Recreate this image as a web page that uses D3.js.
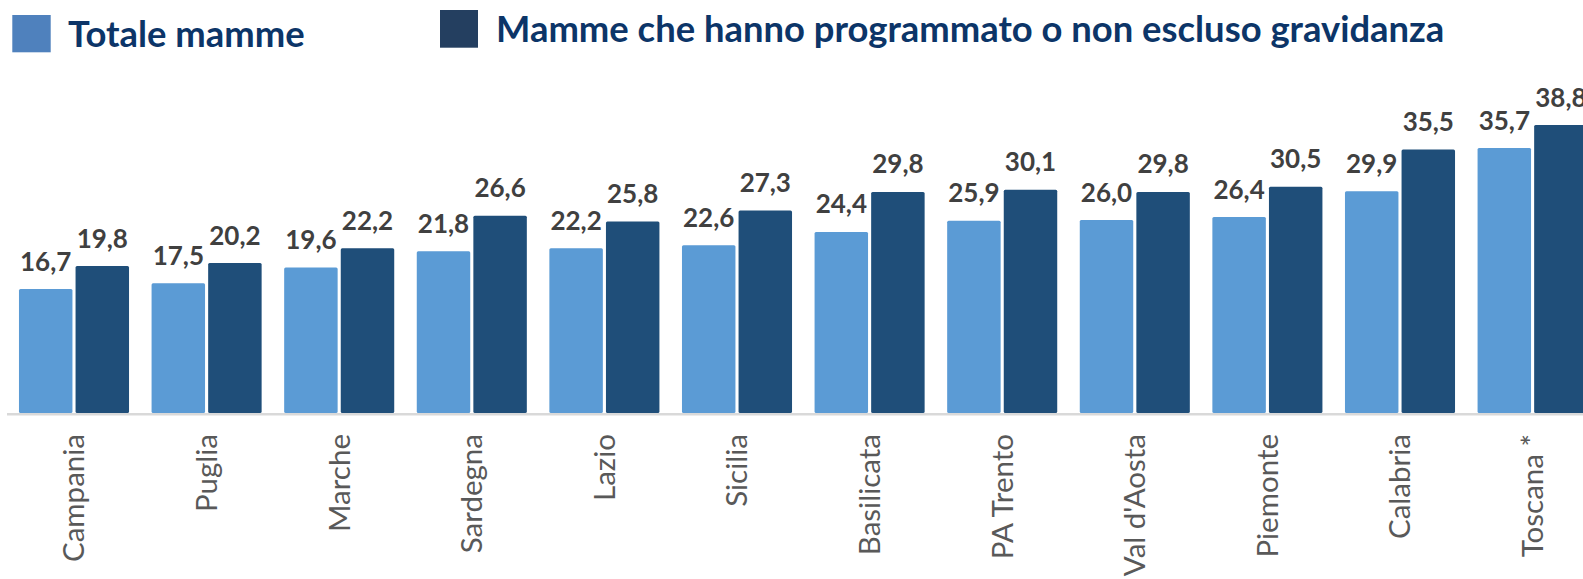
<!DOCTYPE html>
<html>
<head>
<meta charset="utf-8">
<script src="https://cdn.jsdelivr.net/npm/d3@7"></script>
<style>
	body { margin: 0; background: #fff; }
	svg { display: block; }
	.legend-text { font-family: Lato, "Open Sans", sans-serif; font-weight: bold; font-size: 36.4px; fill: #0c3568; }
	.value-label { font-family: Lato, "Open Sans", sans-serif; font-weight: bold; font-size: 26px; fill: #404040; }
	.cat-label { font-family: Lato, "Open Sans", sans-serif; font-size: 29.5px; fill: #595959; }
</style>
</head>
<body>
<svg id="chart" width="1583" height="579"></svg>
<script>

const REGIONS = [
	"Campania",
	"Puglia",
	"Marche",
	"Sardegna",
	"Lazio",
	"Sicilia",
	"Basilicata",
	"PA Trento",
	"Val d'Aosta",
	"Piemonte",
	"Calabria",
	"Toscana *"
];

const TOTALE_MAMME = [16.7, 17.5, 19.6, 21.8, 22.2, 22.6, 24.4, 25.9, 26.0, 26.4, 29.9, 35.7];
const MAMME_GRAVIDANZA = [19.8, 20.2, 22.2, 26.6, 25.8, 27.3, 29.8, 30.1, 29.8, 30.5, 35.5, 38.8];

const SERIES_NAMES = [
	"Totale mamme",
	"Mamme che hanno programmato o non escluso gravidanza"
];

const BAR_COLORS = ['#5b9bd5', '#1f4e79'];
const LEGEND_COLORS = ['#4f81bd', '#243f60'];

const BASELINE = 413;

class GroupedBars {

	constructor(element){
		this.svg = d3.select(element);
		this.series = [TOTALE_MAMME, MAMME_GRAVIDANZA];

		this.x = d3.scaleBand()
			.domain(REGIONS)
			.range([7.7, 1598.9])
			.paddingInner(0.17)
			.paddingOuter(0.085);

		this.xSub = d3.scaleBand()
			.domain([0, 1])
			.range([0, this.x.bandwidth()])
			.paddingInner(0.055);

		// about 7.42px per point, zero on the grey base line
		this.y = d3.scaleLinear()
			.domain([0, 40])
			.range([BASELINE, BASELINE - 7.42 * 40]);
	}

	drawLegend(){
		let items = [
			{sq: [12.3, 15, 38.4, 37.3], tx: 68, ty: 46.7},
			{sq: [440, 10, 38, 37.7], tx: 496, ty: 41.7}
		];
		let g = this.svg.append("g").attr("class", "legend");
		items.forEach((it, i) => {
			g.append("rect")
				.attr("x", it.sq[0])
				.attr("y", it.sq[1])
				.attr("width", it.sq[2])
				.attr("height", it.sq[3])
				.attr("fill", LEGEND_COLORS[i]);
			g.append("text")
				.attr("class", "legend-text")
				.attr("x", it.tx)
				.attr("y", it.ty)
				.text(SERIES_NAMES[i]);
		});
	}

	drawAxis(){
		this.svg.append("line")
			.attr("x1", 7)
			.attr("x2", 1583)
			.attr("y1", BASELINE + 1.2)
			.attr("y2", BASELINE + 1.2)
			.attr("stroke", "#d9d9d9")
			.attr("stroke-width", 2.6);

		let axis = d3.axisBottom(this.x).tickSize(0).tickPadding(0);
		let axisG = this.svg.append("g")
			.attr("transform", "translate(0," + 434 + ")")
			.call(axis);
		axisG.select(".domain").remove();
		axisG.selectAll(".tick text")
			.attr("class", "cat-label")
			.attr("font-family", null)
			.attr("font-size", null)
			.attr("fill", null)
			.attr("y", 0)
			.attr("x", 0)
			.attr("dy", "0.35em")
			.attr("text-anchor", "end")
			.attr("transform", "rotate(-90)");
	}

	drawBars(){
		let groups = this.svg.append("g")
			.selectAll("g")
			.data(REGIONS)
			.join("g")
			.attr("transform", d => "translate(" + this.x(d) + ",0)");

		groups.selectAll("rect")
			.data((d, i) => this.series.map((s, k) => ({k: k, v: s[i]})))
			.join("rect")
			.attr("x", d => this.xSub(d.k))
			.attr("y", d => this.y(d.v))
			.attr("width", this.xSub.bandwidth())
			.attr("height", d => BASELINE - this.y(d.v))
			.attr("rx", 1.5)
			.attr("fill", d => BAR_COLORS[d.k]);

		groups.selectAll("text")
			.data((d, i) => this.series.map((s, k) => ({k: k, v: s[i]})))
			.join("text")
			.attr("class", "value-label")
			.attr("x", d => this.xSub(d.k) + this.xSub.bandwidth() / 2)
			.attr("y", d => this.y(d.v) - 18.5)
			.attr("text-anchor", "middle")
			.text(d => d.v.toFixed(1).replace(".", ","));
	}

	createChart(){
		this.drawLegend();
		this.drawBars();
		this.drawAxis();
	}
}

let chart = new GroupedBars("#chart");
chart.createChart();

</script>
</body>
</html>
